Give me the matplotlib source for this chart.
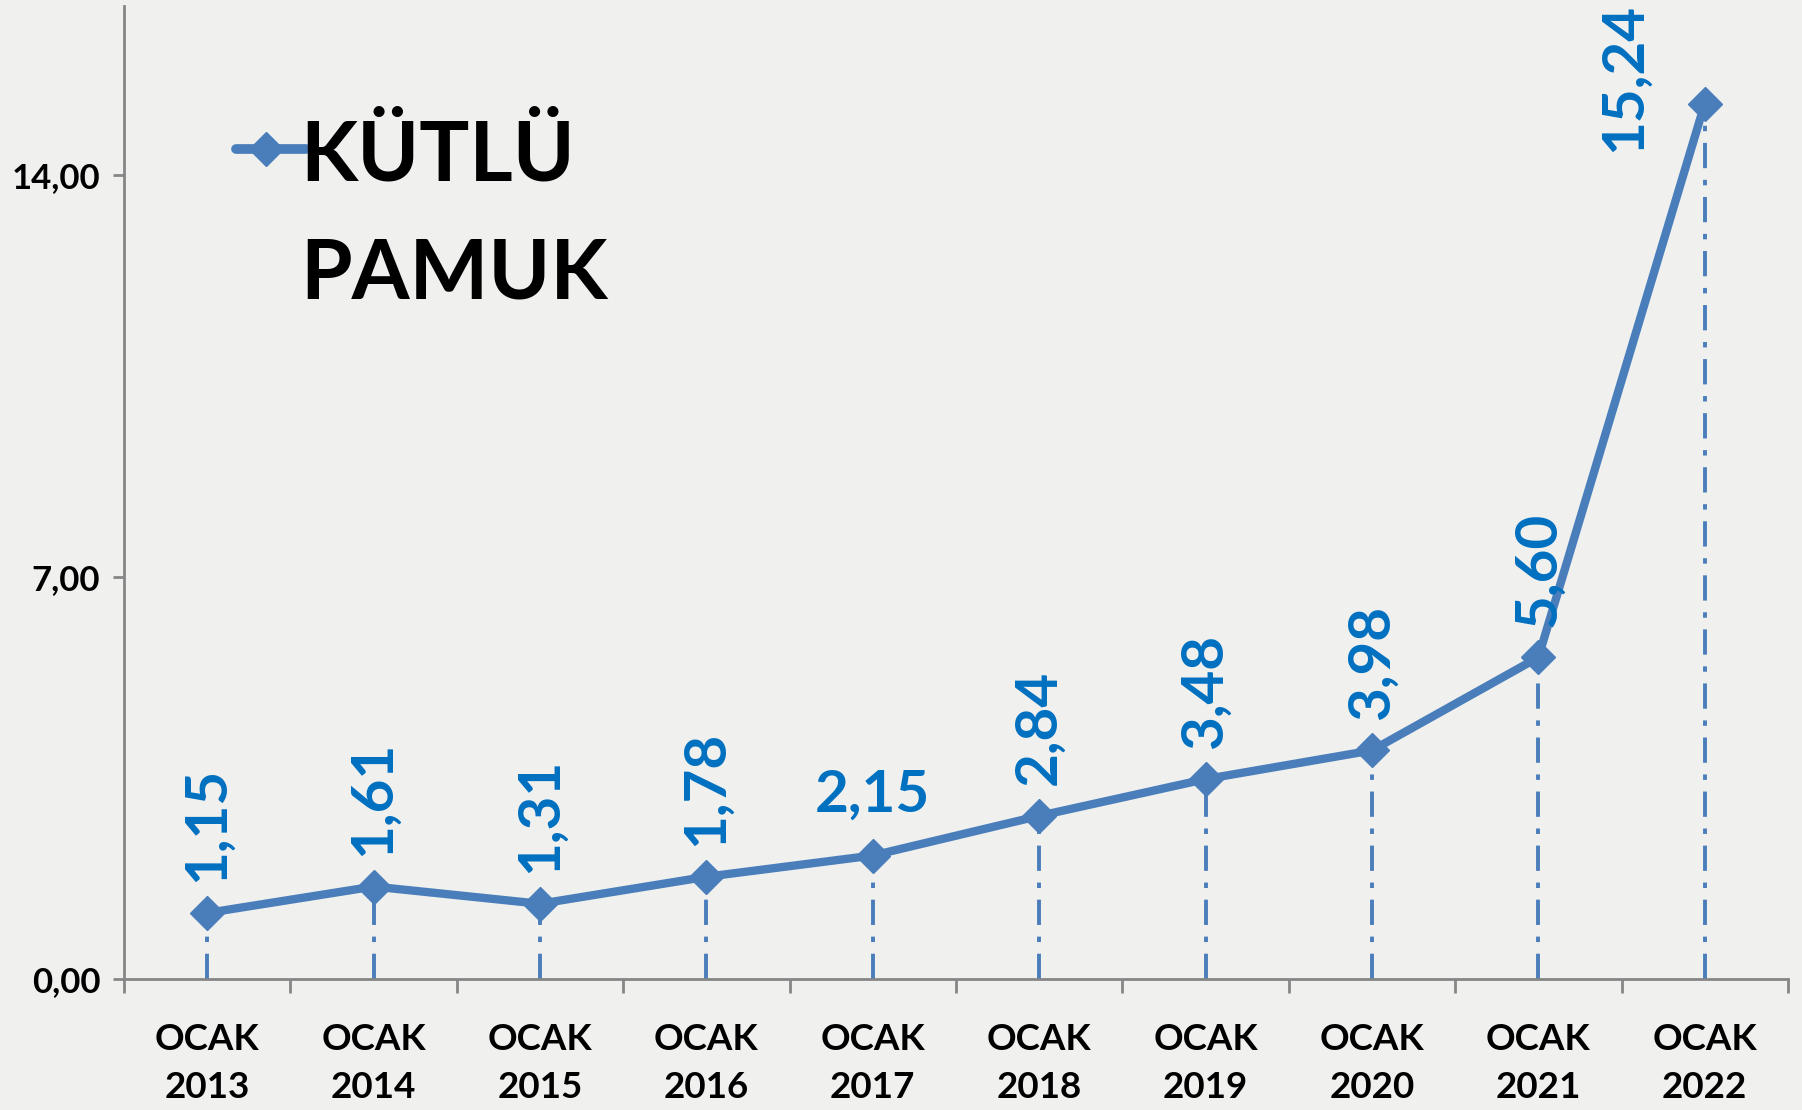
import numpy as np
import matplotlib
matplotlib.use("Agg")
from matplotlib import pyplot as plt
from matplotlib.lines import Line2D

plt.rcParams['font.family'] = ['Lato', 'DejaVu Sans']

years = ["2013", "2014", "2015", "2016", "2017", "2018", "2019", "2020", "2021", "2022"]
prices = [1.15, 1.61, 1.31, 1.78, 2.15, 2.84, 3.48, 3.98, 5.60, 15.24]
yticks = [0, 7, 14]
series_name = ["KÜTLÜ", "PAMUK"]

blue = '#4a7ebb'
label_blue = '#0070c0'
axis_grey = '#868686'

W, H = 1802, 1110
fig = plt.figure(figsize=(W / 100, H / 100), dpi=100)
fig.patch.set_facecolor('#f0f0ee')
ax = fig.add_axes([0.0688, 0.118, 0.9234, 0.8766])
ax.set_facecolor('none')

x = np.arange(len(years))

# dash-dot drop lines from each point to the axis
ax.vlines(x, 0, prices, colors=blue, linewidth=2.8,
          linestyles=[(0, (6.5, 3, 1.4, 3))], zorder=2)
ax.plot(x, prices, color=blue, linewidth=6, marker='D', markersize=17,
        solid_joinstyle='round', zorder=3)

# value labels
lab_kw = dict(textcoords='offset points', ha='center', va='bottom',
              fontsize=42, fontweight='bold', color=label_blue)
for i, v in enumerate(prices):
    txt = f"{v:.2f}".replace('.', ',')
    if i == 4:
        ax.annotate(txt, (i, v), xytext=(0, 24), **lab_kw)
    elif i == len(prices) - 1:
        ax.annotate(txt, (i, v), xytext=(-58, -35), rotation=90, **lab_kw)
    else:
        ax.annotate(txt, (i, v), xytext=(0, 22), rotation=90, **lab_kw)

ax.set_xlim(-0.5, len(years) - 0.5)
ax.set_ylim(0, 16.94)

ax.set_yticks(yticks)
ax.set_yticklabels([f"{t:.2f}".replace('.', ',') for t in yticks],
                   fontsize=25, fontweight='bold')
ax.set_xticks(x)
ax.set_xticklabels(["OCAK\n" + y for y in years], fontsize=26.5,
                   fontweight='bold', linespacing=1.55)
ax.set_xticks(np.arange(-0.5, len(years)), minor=True)
ax.tick_params(axis='x', which='major', length=0, pad=32)
ax.tick_params(axis='x', which='minor', length=10, width=2, color=axis_grey)
ax.tick_params(axis='y', length=8, width=2, color=axis_grey, pad=9)

for side in ['top', 'right']:
    ax.spines[side].set_visible(False)
for side in ['left', 'bottom']:
    ax.spines[side].set_color(axis_grey)
    ax.spines[side].set_linewidth(2)

# series key in the upper left
fig.add_artist(Line2D([236 / W, 306 / W], [1 - 149 / H] * 2, color=blue,
                      linewidth=7, solid_capstyle='round'))
fig.add_artist(Line2D([266 / W], [1 - 149 / H], color=blue, marker='D',
                      markersize=17))
for name, yc in zip(series_name, [150, 268]):
    fig.text(300 / W, 1 - yc / H, name, ha='left', va='center_baseline',
             fontsize=60, fontweight='bold', color='black')

fig.savefig("out.png", dpi=100, facecolor=fig.get_facecolor())
